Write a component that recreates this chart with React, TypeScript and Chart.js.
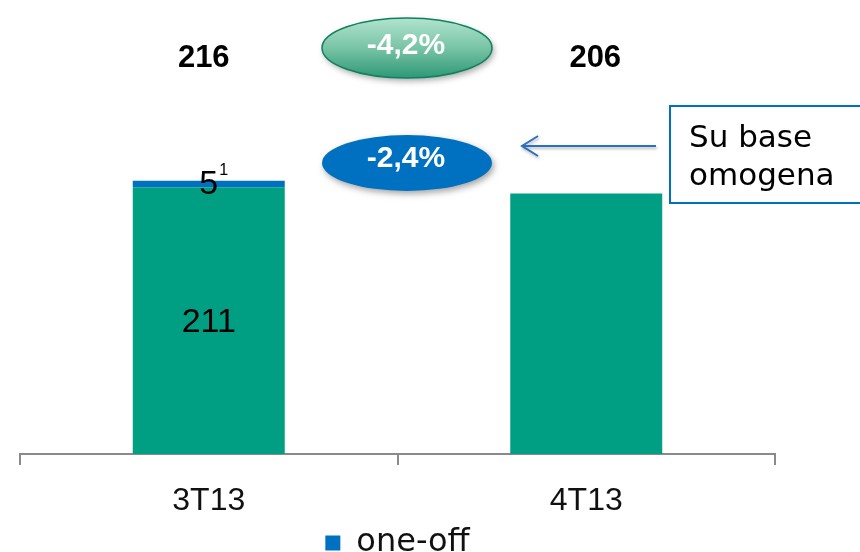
import React, { useEffect, useRef } from "react";
import { Chart, registerables } from "chart.js";

Chart.register(...registerables);

// Quarterly values
const categories = ["3T13", "4T13"];
const baseValues = [211, 206];
const oneOffValues = [5, 0];
const totalChange = "-4,2%";
const likeForLikeChange = "-2,4%";
const calloutLines = ["Su base", "omogena"];

const GREEN = "#009e82";
const BLUE = "#0070c0";
const AXIS_GREY = "#8a8a8a";

const overlayPlugin = {
  id: "overlay",
  afterDatasetsDraw(chart: any) {
    const ctx: CanvasRenderingContext2D = chart.ctx;
    const baseMeta = chart.getDatasetMeta(0);
    const oneOffMeta = chart.getDatasetMeta(1);
    ctx.save();

    // Segment labels inside the stacked bar
    categories.forEach((_, i) => {
      if (!oneOffValues[i]) return;
      const b = baseMeta.data[i];
      const o = oneOffMeta.data[i];
      ctx.fillStyle = "#000";
      ctx.textAlign = "center";
      ctx.textBaseline = "middle";
      ctx.font = "34px 'Liberation Sans', sans-serif";
      ctx.fillText(String(baseValues[i]), b.x, (b.y + b.base) / 2 + 2);
      const oy = (o.y + o.base) / 2 + 1;
      ctx.fillText(String(oneOffValues[i]), o.x, oy);
      const w = ctx.measureText(String(oneOffValues[i])).width;
      ctx.font = "16px 'Liberation Sans', sans-serif";
      ctx.textAlign = "left";
      ctx.fillText("1", o.x + w / 2 + 1, oy - 14);
    });

    // Totals above the plot
    const nudges = [-5, 9];
    ctx.font = "bold 31px 'Liberation Sans', sans-serif";
    ctx.textAlign = "center";
    ctx.textBaseline = "middle";
    ctx.fillStyle = "#000";
    categories.forEach((_, i) => {
      const bar = baseMeta.data[i];
      ctx.fillText(String(baseValues[i] + oneOffValues[i]), bar.x + nudges[i], 58);
    });

    // Change bubbles
    const cx = 407;
    ctx.save();
    ctx.shadowColor = "rgba(0,0,0,0.35)";
    ctx.shadowBlur = 6;
    ctx.shadowOffsetX = 2;
    ctx.shadowOffsetY = 3;
    const grad = ctx.createLinearGradient(0, 18, 0, 78);
    grad.addColorStop(0, "#b2e3cf");
    grad.addColorStop(0.5, "#78c4a6");
    grad.addColorStop(1, "#2e9876");
    ctx.beginPath();
    ctx.ellipse(cx, 48, 85, 30, 0, 0, Math.PI * 2);
    ctx.fillStyle = grad;
    ctx.fill();
    ctx.beginPath();
    ctx.ellipse(cx, 163, 85, 28, 0, 0, Math.PI * 2);
    ctx.fillStyle = BLUE;
    ctx.fill();
    ctx.restore();
    ctx.beginPath();
    ctx.ellipse(cx, 48, 85, 30, 0, 0, Math.PI * 2);
    ctx.strokeStyle = "#10805f";
    ctx.lineWidth = 1.5;
    ctx.stroke();

    ctx.fillStyle = "#fff";
    ctx.font = "bold 30px 'Liberation Sans', sans-serif";
    ctx.textAlign = "center";
    ctx.textBaseline = "middle";
    ctx.fillText(totalChange, cx - 1, 46);
    ctx.fillText(likeForLikeChange, cx - 1, 159);

    // Arrow to the like-for-like bubble
    ctx.save();
    ctx.shadowColor = "rgba(0,0,0,0.3)";
    ctx.shadowBlur = 3;
    ctx.shadowOffsetX = 1;
    ctx.shadowOffsetY = 2;
    ctx.strokeStyle = "#2a6fc2";
    ctx.lineWidth = 2;
    ctx.beginPath();
    ctx.moveTo(656, 146);
    ctx.lineTo(522, 146);
    ctx.moveTo(538, 136);
    ctx.lineTo(522, 146);
    ctx.lineTo(538, 156);
    ctx.stroke();
    ctx.restore();

    // Callout box
    ctx.strokeStyle = BLUE;
    ctx.lineWidth = 2;
    ctx.strokeRect(670, 106, 200, 97);
    ctx.fillStyle = "#000";
    ctx.font = "31px 'DejaVu Sans', sans-serif";
    ctx.textAlign = "left";
    ctx.textBaseline = "alphabetic";
    ctx.fillText(calloutLines[0], 689, 147);
    ctx.fillText(calloutLines[1], 689, 185);

    ctx.restore();
  },
};

export default function App() {
  const canvasRef = useRef<HTMLCanvasElement | null>(null);

  useEffect(() => {
    document.body.style.margin = "0";
    const canvas = canvasRef.current;
    if (!canvas) return;
    const chart = new Chart(canvas, {
      type: "bar",
      data: {
        labels: categories,
        datasets: [
          {
            label: "base",
            data: baseValues,
            backgroundColor: GREEN,
            borderWidth: 0,
          },
          {
            label: "one-off",
            data: oneOffValues,
            backgroundColor: BLUE,
            borderWidth: 0,
          },
        ],
      },
      options: {
        animation: false,
        responsive: false,
        maintainAspectRatio: false,
        layout: { padding: { left: 20, right: 85, top: 0, bottom: 0 } },
        datasets: {
          bar: { categoryPercentage: 1, barPercentage: 0.4026 },
        },
        scales: {
          x: {
            stacked: true,
            offset: true,
            afterFit: (scale: any) => {
              scale.height = 69;
            },
            grid: {
              offset: true,
              drawOnChartArea: false,
              drawTicks: true,
              tickLength: 11,
              color: AXIS_GREY,
              lineWidth: 2,
            },
            border: { display: true, color: AXIS_GREY, width: 2 },
            ticks: {
              color: "#111",
              padding: 17,
              font: { family: "'Liberation Sans', sans-serif", size: 32 },
            },
          },
          y: {
            stacked: true,
            display: false,
            min: 0,
            max: 359,
          },
        },
        plugins: {
          legend: {
            display: true,
            position: "bottom",
            labels: {
              filter: (item: any) => item.text === "one-off",
              boxWidth: 15,
              boxHeight: 15,
              padding: 4,
              color: "#111",
              font: { family: "'DejaVu Sans', sans-serif", size: 32 },
            },
          },
          tooltip: { enabled: false },
        },
      },
      plugins: [overlayPlugin],
    });
    return () => chart.destroy();
  }, []);

  return (
    <div style={{ width: 860, height: 552, overflow: "hidden" }}>
      <canvas ref={canvasRef} width={860} height={569} />
    </div>
  );
}
